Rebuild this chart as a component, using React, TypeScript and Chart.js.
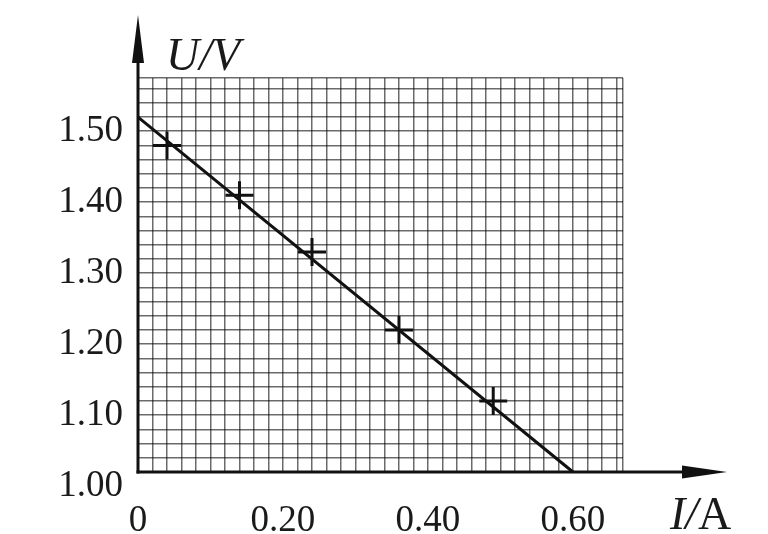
import React, { useEffect, useRef } from "react";
import { Chart, registerables } from "chart.js";

Chart.register(...registerables);

// Measured points (I in A, U in V)
const I_VALUES = [0.04, 0.14, 0.24, 0.36, 0.49];
const U_VALUES = [1.46, 1.39, 1.31, 1.2, 1.1];

// Fitted straight line
const FIT_I = [0, 0.6];
const FIT_U = [1.5, 1.0];

// Tick labels
const X_TICK_VALUES = [0, 0.2, 0.4, 0.6];
const X_TICK_LABELS = ["0", "0.20", "0.40", "0.60"];
const Y_TICK_VALUES = [1.0, 1.1, 1.2, 1.3, 1.4, 1.5];
const Y_TICK_LABELS = ["1.00", "1.10", "1.20", "1.30", "1.40", "1.50"];

const GRID_STEP = 0.02;
const X_MIN = 0;
const X_MAX = 0.669;
const Y_MIN = 1.0;
const Y_MAX = 1.555;

function gridTicks(min: number, max: number, step: number) {
  const out: { value: number }[] = [];
  const n = Math.floor((max - min) / step + 1e-9);
  for (let i = 0; i <= n; i++) out.push({ value: +(min + i * step).toFixed(4) });
  if (max - out[out.length - 1].value > 1e-6) out.push({ value: max });
  return out;
}

function labelFor(values: number[], labels: string[], v: number) {
  const idx = values.findIndex((t) => Math.abs(t - v) < 1e-6);
  return idx >= 0 ? labels[idx] : "";
}

const axesPlugin = {
  id: "axesArrows",
  afterDraw(chart: any) {
    const { ctx } = chart;
    const xs = chart.scales.x;
    const ys = chart.scales.y;
    const ox = xs.getPixelForValue(0);
    const oy = ys.getPixelForValue(Y_MIN);
    ctx.save();
    ctx.strokeStyle = "#111";
    ctx.fillStyle = "#111";
    ctx.lineWidth = 3;
    // y axis
    ctx.beginPath();
    ctx.moveTo(ox, oy + 1.5);
    ctx.lineTo(ox, 40);
    ctx.stroke();
    ctx.beginPath();
    ctx.moveTo(ox, 15);
    ctx.lineTo(ox - 6, 63);
    ctx.lineTo(ox + 6, 63);
    ctx.closePath();
    ctx.fill();
    // x axis
    ctx.beginPath();
    ctx.moveTo(ox - 1.5, oy);
    ctx.lineTo(700, oy);
    ctx.stroke();
    ctx.beginPath();
    ctx.moveTo(727, oy);
    ctx.lineTo(682, oy - 6.5);
    ctx.lineTo(682, oy + 6.5);
    ctx.closePath();
    ctx.fill();
    // axis titles
    ctx.fillStyle = "#1a1a1a";
    ctx.textBaseline = "alphabetic";
    ctx.textAlign = "left";
    ctx.font = "italic 46px 'Liberation Serif', serif";
    ctx.fillText("U/V", 166, 70);
    ctx.font = "italic 46px 'Liberation Serif', serif";
    ctx.fillText("I/", 670, 529);
    const w = ctx.measureText("I/").width;
    ctx.font = "46px 'Liberation Serif', serif";
    ctx.fillText("A", 670 + w, 529);
    ctx.restore();
  },
};

export default function App() {
  const ref = useRef<HTMLCanvasElement | null>(null);

  useEffect(() => {
    if (!ref.current) return;
    const points = I_VALUES.map((x, i) => ({ x, y: U_VALUES[i] }));
    const fit = FIT_I.map((x, i) => ({ x, y: FIT_U[i] }));
    const tickFont = { family: "'Liberation Serif', serif", size: 37 };
    const chart = new Chart(ref.current, {
      type: "scatter",
      data: {
        datasets: [
          {
            type: "line",
            data: fit,
            borderColor: "#111",
            borderWidth: 3,
            pointRadius: 0,
            fill: false,
            clip: false as any,
          } as any,
          {
            type: "scatter",
            data: points,
            showLine: false,
            pointStyle: "cross",
            pointRadius: 14,
            pointBorderWidth: 3,
            borderColor: "#111",
            backgroundColor: "#111",
            clip: false as any,
          } as any,
        ],
      },
      options: {
        animation: false,
        responsive: false,
        events: [],
        layout: { padding: { left: 0, top: 78, right: 145, bottom: 0 } },
        plugins: { legend: { display: false }, tooltip: { enabled: false } },
        scales: {
          x: {
            type: "linear",
            min: X_MIN,
            max: X_MAX,
            afterBuildTicks: (s: any) => {
              s.ticks = gridTicks(X_MIN, X_MAX, GRID_STEP);
            },
            afterFit: (s: any) => {
              s.height = 62;
            },
            grid: { color: "rgba(0,0,0,0.58)", lineWidth: 1.5, drawTicks: false },
            border: { display: false },
            ticks: {
              autoSkip: false,
              maxRotation: 0,
              padding: 27,
              color: "#1a1a1a",
              font: tickFont,
              callback: (v: any) => labelFor(X_TICK_VALUES, X_TICK_LABELS, Number(v)),
            },
          },
          y: {
            type: "linear",
            min: Y_MIN,
            max: Y_MAX,
            afterBuildTicks: (s: any) => {
              s.ticks = gridTicks(Y_MIN, Y_MAX, GRID_STEP);
            },
            afterFit: (s: any) => {
              s.width = 138;
            },
            grid: { color: "rgba(0,0,0,0.58)", lineWidth: 1.5, drawTicks: false },
            border: { display: false },
            ticks: {
              autoSkip: false,
              padding: 15,
              labelOffset: 14,
              color: "#1a1a1a",
              font: tickFont,
              callback: (v: any) => labelFor(Y_TICK_VALUES, Y_TICK_LABELS, Number(v)),
            },
          },
        },
      },
      plugins: [axesPlugin],
    });
    return () => chart.destroy();
  }, []);

  return (
    <div style={{ position: "fixed", left: 0, top: 0, width: 768, height: 534, background: "#fff" }}>
      <canvas ref={ref} width={768} height={534} style={{ display: "block" }} />
    </div>
  );
}
